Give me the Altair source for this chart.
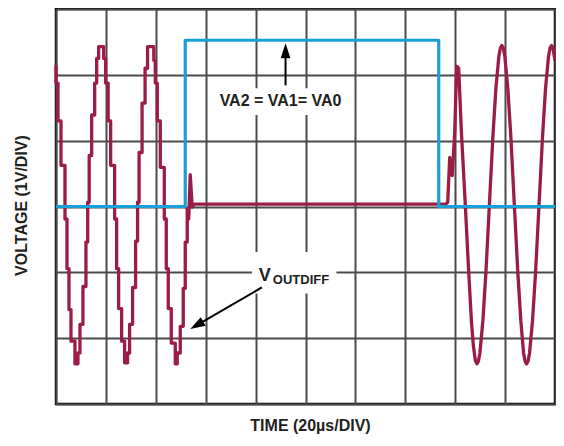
import altair as alt
import pandas as pd

# Time in µs (20 µs/div), voltage in V (1 V/div)
x_ticks = list(range(0, 201, 20))
y_ticks = list(range(-6, 7))

# VA2 = VA1 = VA0 digital input (blue)
blue_t = [0.0, 51.8, 51.8, 153.4, 153.4, 200.0]
blue_v = [0.0, 0.0, 5.05, 5.05, 0.0, 0.0]

# VOUTDIFF stepped (DAC) section: hold start time and held level
step_t = [0, 0, 0.8, 2.0, 3.6, 4.4, 5.2, 6.0, 7.6, 8.8,
          9.6, 10.8, 12.0, 12.7, 13.3, 14.3, 15.5, 16.3, 17.1, 19.1,
          19.9, 20.9, 21.9, 23.5, 24.3, 25.1, 26.3, 27.5, 28.7, 29.5,
          30.7, 31.9, 32.7, 33.3, 34.5, 35.7, 36.7, 39.2, 39.8, 40.6,
          41.8, 43.4, 44.2, 45.0, 46.2, 47.8, 48.6, 49.8, 51.0, 51.8, 52.6]
step_v = [4.3, 3.75, 2.6, 1.25, -0.38, -1.89, -3.13, -4.09, -4.78, -4.45,
          -3.58, -2.43, -1.08, 0.13, 1.55, 2.78, 3.75, 4.5, 4.86, 4.5,
          3.75, 2.6, 1.25, -0.38, -1.89, -3.1, -4.09, -4.75, -4.45, -3.58,
          -2.46, -1.05, 0.13, 1.64, 3.14, 4.2, 4.86, 4.44, 3.75, 2.6,
          1.19, -0.38, -1.89, -3.1, -4.15, -4.78, -4.45, -3.64, -2.49, -1.08, -0.02]

# VOUTDIFF glitches, flat section and smooth sine section
tail_t = [52.6, 53.2, 53.8, 54.6, 55.4, 156.2, 157.0, 157.8, 158.8, 159.8,
          160.6, 161.4, 162.5, 164.1, 165.3, 166.5, 167.3, 168.1, 168.7,
          169.3, 169.9, 171.1, 172.3, 173.7, 175.1, 176.3, 177.5, 178.1, 178.7,
          179.3, 179.9, 181.1, 182.3, 183.7, 185.1, 186.3, 187.4, 188.0, 188.6,
          189.2, 189.8, 191.0, 192.2, 193.6, 195.0, 196.2, 197.4, 198.0, 198.6,
          199.2, 200.0]
tail_v = [-0.02, -0.38, 0.97, -0.02, 0.07, 0.07, 0.13, 1.49, 0.94, 2.24,
          4.26, 4.20, 2.24, -0.02, -1.83, -3.49, -4.24, -4.69, -4.78,
          -4.70, -4.45, -3.47, -2.01, 0.05, 2.12, 3.58, 4.56, 4.81, 4.89,
          4.81, 4.56, 3.58, 2.12, 0.05, -2.01, -3.47, -4.45, -4.70, -4.78,
          -4.70, -4.45, -3.47, -2.01, 0.05, 2.12, 3.58, 4.56, 4.81, 4.89,
          4.81, 4.43]

# Annotation boxes (white background behind labels)
box_t1 = [62.5, 78.5]
box_t2 = [119.5, 112.4]
box_v1 = [2.78, -1.38]
box_v2 = [3.59, -2.64]

# Arrow shafts and heads
shaft_t1 = [92.0, 82.5]
shaft_v1 = [3.68, -2.46]
shaft_t2 = [92.0, 58.9]
shaft_v2 = [4.56, -3.50]
head_t = [92.0, 56.4]
head_v = [4.73, -3.61]
head_angle = [0, 240]

RED = "#9c1c46"
BLUE = "#1aa0d8"
FONT = "Liberation Sans"
TXT = "#231f20"
GRID = "#4a4a4a"


def table(t, v):
    return pd.DataFrame({"t": t, "v": v, "i": list(range(len(t)))})


xs = alt.Scale(domain=[0, 200], nice=False, zero=False)
ys = alt.Scale(domain=[-6, 6], nice=False, zero=False)

x_axis = alt.Axis(values=x_ticks, grid=True, labels=False, ticks=False, domain=False,
                  gridColor=GRID, gridWidth=2, gridOpacity=1,
                  title="TIME (20µs/DIV)", titleFont=FONT, titleFontSize=16,
                  titleFontWeight="bold", titleColor=TXT, titleX=254, titleY=21,
                  titleAlign="center", titleBaseline="middle")
y_axis = alt.Axis(values=y_ticks, grid=True, labels=False, ticks=False, domain=False,
                  gridColor=GRID, gridWidth=2, gridOpacity=1,
                  title="VOLTAGE (1V/DIV)", titleFont=FONT, titleFontSize=16,
                  titleFontWeight="bold", titleColor=TXT, titleX=-35, titleY=196,
                  titleAngle=270, titleAlign="center", titleBaseline="middle")

red_steps = alt.Chart(table(step_t, step_v)).mark_line(
    color=RED, strokeWidth=3.3, interpolate="step-after", strokeJoin="round").encode(
    x=alt.X("t:Q", scale=xs, axis=x_axis),
    y=alt.Y("v:Q", scale=ys, axis=y_axis),
    order=alt.Order("i:Q"))

boxes = alt.Chart(pd.DataFrame({"t": box_t1, "t2": box_t2, "v": box_v1, "v2": box_v2})).mark_rect(
    color="white", opacity=1).encode(
    x=alt.X("t:Q"), x2="t2:Q",
    y=alt.Y("v:Q"), y2="v2:Q")

red_tail = alt.Chart(table(tail_t, tail_v)).mark_line(
    color=RED, strokeWidth=3.3, strokeJoin="round").encode(
    x=alt.X("t:Q"), y=alt.Y("v:Q"), order=alt.Order("i:Q"))

blue = alt.Chart(table(blue_t, blue_v)).mark_line(
    color=BLUE, strokeWidth=3.2, strokeJoin="round").encode(
    x=alt.X("t:Q"), y=alt.Y("v:Q"), order=alt.Order("i:Q"))

shafts = alt.Chart(pd.DataFrame({"t": shaft_t1, "v": shaft_v1, "t2": shaft_t2, "v2": shaft_v2})).mark_rule(
    color="black", strokeWidth=2).encode(
    x=alt.X("t:Q"), x2="t2:Q", y=alt.Y("v:Q"), y2="v2:Q")

heads = alt.Chart(pd.DataFrame({"t": head_t, "v": head_v, "a": head_angle})).mark_point(
    shape="M0,-1L0.65,1L-0.65,1Z", filled=True, color="black", opacity=1, size=225,
    strokeWidth=0).encode(
    x=alt.X("t:Q"), y=alt.Y("v:Q"),
    angle=alt.Angle("a:Q", scale=None))

label_va = alt.Chart(pd.DataFrame({"t": [90.0], "v": [3.04], "s": ["VA2 = VA1= VA0"]})).mark_text(
    font=FONT, fontSize=16, fontWeight="bold", color=TXT, align="center", baseline="alphabetic").encode(
    x=alt.X("t:Q"), y=alt.Y("v:Q"), text="s:N")

label_v = alt.Chart(pd.DataFrame({"t": [81.3], "v": [-2.25], "s": ["V"]})).mark_text(
    font=FONT, fontSize=18, fontWeight="bold", color=TXT, align="left", baseline="alphabetic").encode(
    x=alt.X("t:Q"), y=alt.Y("v:Q"), text="s:N")

label_sub = alt.Chart(pd.DataFrame({"t": [86.9], "v": [-2.34], "s": ["OUTDIFF"]})).mark_text(
    font=FONT, fontSize=13, fontWeight="bold", color=TXT, align="left", baseline="alphabetic").encode(
    x=alt.X("t:Q"), y=alt.Y("v:Q"), text="s:N")

chart = alt.layer(
    red_steps, boxes, red_tail, blue, shafts, heads, label_va, label_v, label_sub
).properties(
    width=499, height=395,
    padding={"left": 48, "top": 1, "right": 1, "bottom": 35},
    autosize=alt.AutoSizeParams(type="none"),
).configure_view(stroke="black", strokeWidth=2.5)

chart.save("out.html", embed_options={"renderer": "svg", "actions": False})
